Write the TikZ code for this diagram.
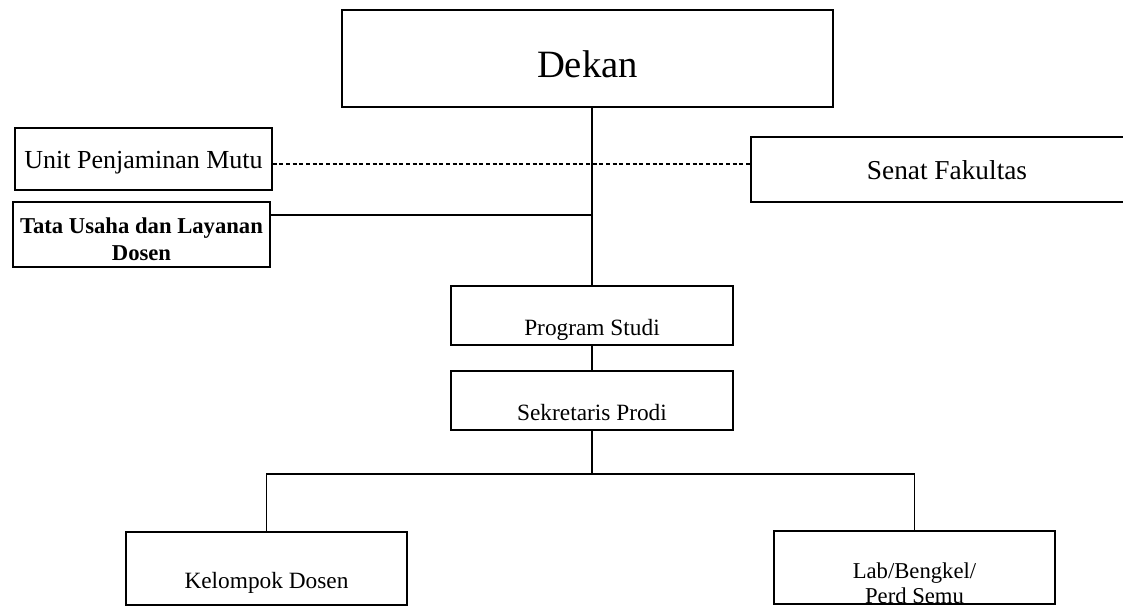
\documentclass[tikz,border=0pt]{standalone}
\usepackage{fontspec}
\setmainfont{Liberation Serif}
\begin{document}
\begin{tikzpicture}[x=0.75pt,y=-0.75pt,
        box/.style={draw,line width=1.1pt,inner sep=0pt,anchor=base},
        bigbox/.style={box,minimum width=#1},
        link/.style={line width=1.1pt}]
        %% page
        \useasboundingbox[fill=white] (0,0) rectangle (1123,606);
        %% Dekan
        \node[bigbox=368.25pt,text height=51pt,text depth=21.75pt,
            font=\fontsize{29}{34}\selectfont] (dekan) at (587.5,78) {Dekan};
        %% staff on the left
        \node[bigbox=192.75pt,text height=30pt,text depth=16.5pt,
            font=\fontsize{19.5}{23}\selectfont] (upm) at (143.5,168) {Unit Penjaminan Mutu};
        \node[bigbox=192.75pt,text height=23.25pt,text depth=25.5pt,
            font=\fontsize{17}{20.25}\selectfont\bfseries] (tu) at (141.5,233)
            {\begin{tabular}[t]{@{}c@{}}Tata Usaha dan Layanan\\Dosen\end{tabular}};
        %% senate on the right
        \node[bigbox=294pt,text height=32.25pt,text depth=16.5pt,
            font=\fontsize{20.5}{24}\selectfont] (senat) at (947,180) {Senat Fakultas};
        %% study programme
        \node[bigbox=211.5pt,text height=36.75pt,text depth=7.5pt,
            font=\fontsize{17.5}{21}\selectfont] (ps) at (592,335) {Program Studi};
        \node[bigbox=211.5pt,text height=36.75pt,text depth=7.5pt,
            font=\fontsize{17.5}{21}\selectfont] (sp) at (592,420) {Sekretaris Prodi};
        %% bottom row
        \node[bigbox=210.75pt,text height=42pt,text depth=12.75pt,
            font=\fontsize{17.5}{21}\selectfont] (kd) at (266.5,588) {Kelompok Dosen};
        \node[bigbox=210.75pt,text height=35.25pt,text depth=19.5pt,
            font=\fontsize{17}{18.75}\selectfont] (lab) at (914.5,578)
            {\begin{tabular}[t]{@{}c@{}}Lab/Bengkel/\\Perd Semu\end{tabular}};
        %% lines
        \draw[link] (dekan.south -| ps.north) -- (ps.north);
        \draw[link,densely dashed] ([yshift=-3.75pt]upm.east) -- ([yshift=-3.75pt]upm.east -| senat.west);
        \draw[link] ([yshift=14.6pt]tu.east) -- ([yshift=14.6pt]tu.east -| ps.north);
        \draw[link] (ps.south) -- (sp.north);
        \coordinate (fork) at (592,474);
        \draw[link] (sp.south) -- (fork);
        \draw[link] (kd.north) |- (fork) -| (lab.north);
    \end{tikzpicture}
\end{document}
